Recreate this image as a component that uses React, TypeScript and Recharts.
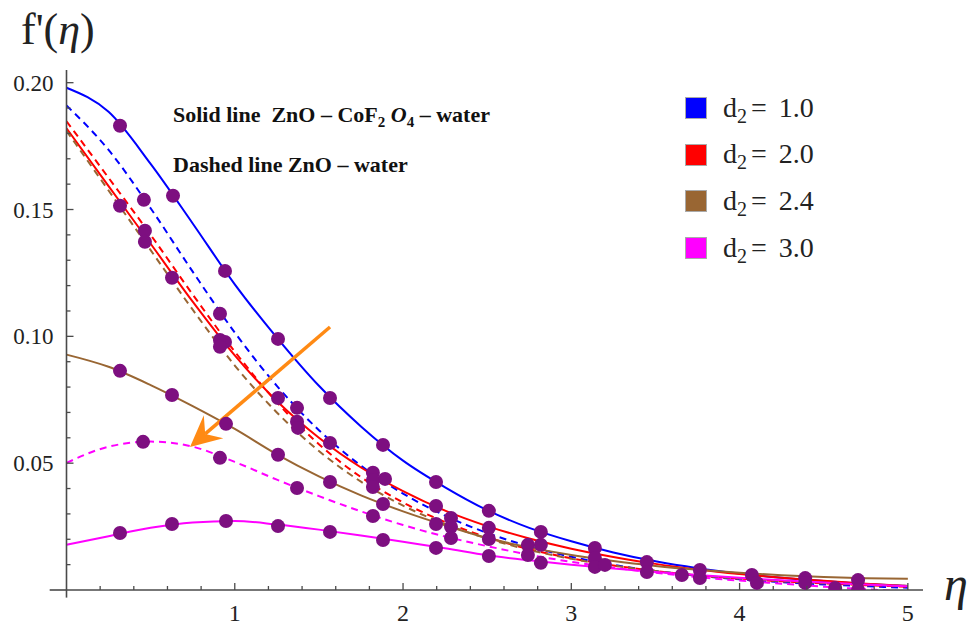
import React from 'react';
import { ComposedChart, Line, Scatter, XAxis, YAxis, ReferenceLine } from 'recharts';

// eta grid for the curves
const ETA = [0, 0.25, 0.5, 0.75, 1, 1.25, 1.5, 1.75, 2, 2.25, 2.5, 2.75, 3, 3.25, 3.5, 3.75, 4, 4.25, 4.5, 4.75, 5];

// d2 = 1.0
const BLUE_SOLID = [0.198, 0.1885, 0.168, 0.1445, 0.1205, 0.0995, 0.0805, 0.0645, 0.051, 0.0405, 0.0315, 0.0245, 0.0192, 0.0148, 0.0113, 0.0086, 0.0065, 0.0048, 0.0035, 0.0024, 0.0016];
const BLUE_DASHED = [0.191, 0.1735, 0.1505, 0.1255, 0.1015, 0.0805, 0.063, 0.049, 0.038, 0.0293, 0.0225, 0.0172, 0.0131, 0.0099, 0.0075, 0.0056, 0.0042, 0.0031, 0.0022, 0.0015, 0.0009];
// d2 = 2.0
const RED_SOLID = [0.182, 0.1592, 0.1365, 0.1137, 0.0925, 0.0745, 0.06, 0.0483, 0.039, 0.0313, 0.0252, 0.0203, 0.0163, 0.013, 0.0103, 0.0081, 0.0063, 0.0048, 0.0036, 0.0025, 0.0016];
const RED_DASHED = [0.1848, 0.1625, 0.14, 0.1165, 0.094, 0.074, 0.0575, 0.0445, 0.0345, 0.0268, 0.0208, 0.0161, 0.0125, 0.0097, 0.0075, 0.0058, 0.0045, 0.0034, 0.0026, 0.0019, 0.0013];
// d2 = 2.4
const BROWN_SOLID = [0.0928, 0.088, 0.0808, 0.0725, 0.0635, 0.0535, 0.0448, 0.0373, 0.031, 0.0255, 0.0205, 0.0168, 0.0138, 0.0114, 0.0095, 0.008, 0.0068, 0.0058, 0.0051, 0.0046, 0.0044];
const BROWN_DASHED = [0.181, 0.1575, 0.134, 0.1105, 0.0885, 0.07, 0.0548, 0.0427, 0.0333, 0.026, 0.0203, 0.0158, 0.0123, 0.0096, 0.0075, 0.0058, 0.0045, 0.0035, 0.0027, 0.0021, 0.0016];
// d2 = 3.0
const MAGENTA_SOLID = [0.0178, 0.0212, 0.0245, 0.0266, 0.0272, 0.0258, 0.0238, 0.0215, 0.019, 0.0165, 0.0137, 0.0117, 0.01, 0.0085, 0.0071, 0.0059, 0.0048, 0.0038, 0.003, 0.0022, 0.0015];
const MAGENTA_DASHED = [0.0501, 0.0565, 0.0585, 0.0565, 0.0505, 0.0435, 0.037, 0.031, 0.0256, 0.0211, 0.0173, 0.0139, 0.0111, 0.0088, 0.0068, 0.0051, 0.0037, 0.0025, 0.0013, 0.0003, -0.0006];

// purple markers [eta, f']
const DOTS = [
  [0.318, 0.183], [0.633, 0.1554], [0.46, 0.1538], [0.318, 0.1515], [0.466, 0.1416], [0.466, 0.1373],
  [0.627, 0.1231], [0.942, 0.1258], [0.912, 0.1089], [0.912, 0.0986], [0.942, 0.0978], [0.912, 0.0959],
  [1.257, 0.099], [0.627, 0.0769], [0.948, 0.0655], [1.257, 0.0757], [1.37, 0.0718], [1.37, 0.0663],
  [1.376, 0.0639], [1.566, 0.0757], [1.566, 0.058], [1.257, 0.0533], [0.912, 0.0521], [0.318, 0.0864],
  [0.455, 0.0584], [0.318, 0.0225], [0.627, 0.026], [0.948, 0.0272], [1.257, 0.0252], [1.566, 0.0229],
  [1.566, 0.0426], [1.37, 0.0402], [1.881, 0.0572], [1.821, 0.0462], [1.821, 0.0434], [1.821, 0.0406],
  [1.893, 0.0438], [1.881, 0.0339], [1.821, 0.0292], [1.881, 0.0197], [2.196, 0.0426], [2.196, 0.0331],
  [2.196, 0.026], [2.285, 0.0284], [2.285, 0.0249], [2.285, 0.0205], [2.196, 0.0166], [2.51, 0.0312],
  [2.51, 0.0245], [2.51, 0.0201], [2.51, 0.0134], [2.819, 0.0229], [2.742, 0.0178], [2.742, 0.0138],
  [2.819, 0.0178], [2.819, 0.0107], [3.14, 0.0166], [3.14, 0.0126], [3.14, 0.0091], [3.2, 0.0099],
  [3.449, 0.011], [3.449, 0.0071], [3.657, 0.0059], [3.764, 0.0079], [3.764, 0.0047], [4.073, 0.0059],
  [4.103, 0.0028], [4.39, 0.0047], [4.39, 0.0028], [4.568, 0.0008], [4.704, 0.0039], [4.704, 0.0],
];

const X_TICKS = [0.2, 0.4, 0.6, 0.8, 1, 1.2, 1.4, 1.6, 1.8, 2, 2.2, 2.4, 2.6, 2.8, 3, 3.2, 3.4, 3.6, 3.8, 4, 4.2, 4.4, 4.6, 4.8, 5];
const X_LABELS = [1, 2, 3, 4, 5];
const Y_TICKS = [0.01, 0.02, 0.03, 0.04, 0.05, 0.06, 0.07, 0.08, 0.09, 0.1, 0.11, 0.12, 0.13, 0.14, 0.15, 0.16, 0.17, 0.18, 0.19, 0.2];
const Y_LABELS = [0.05, 0.1, 0.15, 0.2];

const LEGEND = [
  { label: '1.0', color: '#0000ff' },
  { label: '2.0', color: '#ff0000' },
  { label: '2.4', color: '#996633' },
  { label: '3.0', color: '#ff00ff' },
];

// orange arrow, from tail to tip, in data units
const ARROW = [{ x: 1.566, y: 0.1037 }, { x: 0.734, y: 0.0564 }];

const SERIF = '"Liberation Serif", "Times New Roman", serif';
const AXIS = '#4a4a4a';

const rows = ETA.map((x, i) => ({
  x,
  bs: BLUE_SOLID[i],
  bd: BLUE_DASHED[i],
  rs: RED_SOLID[i],
  rd: RED_DASHED[i],
  ns: BROWN_SOLID[i],
  nd: BROWN_DASHED[i],
  ms: MAGENTA_SOLID[i],
  md: MAGENTA_DASHED[i],
}));

const dots = DOTS.map(([x, y]) => ({ x, y }));

const XTick = ({ x, y, payload }: any) => {
  const major = X_LABELS.includes(payload.value);
  return (
    <g>
      <line x1={x} x2={x} y1={y} y2={y - (major ? 7 : 4)} stroke={AXIS} strokeWidth={1.3} />
      {major && (
        <text x={x} y={y + 31} textAnchor="middle" fontSize={24} fontFamily={SERIF} fill="#222">
          {payload.value}
        </text>
      )}
    </g>
  );
};

const YTick = ({ x, y, payload }: any) => {
  const major = Y_LABELS.includes(payload.value);
  return (
    <g>
      <line x1={x} x2={x + (major ? 7 : 4)} y1={y} y2={y} stroke={AXIS} strokeWidth={1.3} />
      {major && (
        <text x={x - 13} y={y + 8} textAnchor="end" fontSize={23} fontFamily={SERIF} fill="#222">
          {payload.value.toFixed(2)}
        </text>
      )}
    </g>
  );
};

const Arrow = ({ x1, y1, x2, y2 }: any) => {
  const len = Math.hypot(x2 - x1, y2 - y1);
  const ux = (x2 - x1) / len;
  const uy = (y2 - y1) / len;
  const nx = -uy;
  const ny = ux;
  const head = 31;
  const half = 15;
  const notch = 20;
  const bx = x2 - ux * head;
  const by = y2 - uy * head;
  const pts = [
    [x2, y2],
    [bx + nx * half, by + ny * half],
    [x2 - ux * notch, y2 - uy * notch],
    [bx - nx * half, by - ny * half],
  ].map((p) => p.join(',')).join(' ');
  return (
    <g>
      <line x1={x1} y1={y1} x2={x2 - ux * notch} y2={y2 - uy * notch} stroke="#ff8a14" strokeWidth={3.5} />
      <polygon points={pts} fill="#ff8a14" />
    </g>
  );
};

const Dot = ({ cx, cy }: any) => <circle cx={cx} cy={cy} r={7} fill="#7d0f80" />;

const sub = (n: string, size: number, drop: number) => (
  <span style={{ fontSize: size, position: 'relative', top: drop }}>{n}</span>
);

export default function App() {
  return (
    <div style={{ position: 'absolute', left: 0, top: 0, width: 977, height: 625, background: '#fff' }}>
      <ComposedChart width={977} height={625} data={rows} margin={{ top: 70, right: 54, bottom: 10, left: 10.5 }}>
        <XAxis
          type="number"
          dataKey="x"
          domain={[0, 5.09]}
          allowDataOverflow
          ticks={X_TICKS}
          interval={0}
          tickSize={0}
          tickMargin={0}
          tickLine={false}
          tick={<XTick />}
          height={25}
          axisLine={{ stroke: AXIS, strokeWidth: 1.6 }}
        />
        <YAxis
          type="number"
          domain={[0, 0.205]}
          allowDataOverflow
          ticks={Y_TICKS}
          interval={0}
          tickSize={0}
          tickMargin={0}
          tickLine={false}
          tick={<YTick />}
          width={56}
          axisLine={{ stroke: AXIS, strokeWidth: 1.6 }}
        />
        <ReferenceLine segment={[{ x: -0.1, y: 0 }, { x: 0, y: 0 }]} stroke={AXIS} strokeWidth={1.6} ifOverflow="visible" />
        <ReferenceLine segment={[{ x: 0, y: 0 }, { x: 0, y: -0.003 }]} stroke={AXIS} strokeWidth={1.6} ifOverflow="visible" />

        <Line type="monotone" dataKey="bs" stroke="#0000ff" strokeWidth={2} dot={false} isAnimationActive={false} />
        <Line type="monotone" dataKey="bd" stroke="#0000ff" strokeWidth={2} strokeDasharray="7 5" dot={false} isAnimationActive={false} />
        <Line type="monotone" dataKey="rs" stroke="#ff0000" strokeWidth={2} dot={false} isAnimationActive={false} />
        <Line type="monotone" dataKey="rd" stroke="#ff0000" strokeWidth={2} strokeDasharray="7 5" dot={false} isAnimationActive={false} />
        <Line type="monotone" dataKey="ns" stroke="#996633" strokeWidth={2} dot={false} isAnimationActive={false} />
        <Line type="monotone" dataKey="nd" stroke="#996633" strokeWidth={2} strokeDasharray="7 5" dot={false} isAnimationActive={false} />
        <Line type="monotone" dataKey="ms" stroke="#ff00ff" strokeWidth={2} dot={false} isAnimationActive={false} />
        <Line type="monotone" dataKey="md" stroke="#ff00ff" strokeWidth={2} strokeDasharray="7 5" dot={false} isAnimationActive={false} />

        <Scatter data={dots} dataKey="y" shape={<Dot />} isAnimationActive={false} />
        <ReferenceLine segment={ARROW} ifOverflow="visible" shape={(p: any) => <Arrow {...p} />} />
      </ComposedChart>

      <div style={{ position: 'absolute', left: 21, top: 8, fontFamily: SERIF, fontSize: 44, lineHeight: '44px', color: '#222', whiteSpace: 'nowrap' }}>
        f'(<i>η</i>)
      </div>
      <div style={{ position: 'absolute', left: 944, top: 556, fontFamily: SERIF, fontSize: 48, fontStyle: 'italic', color: '#222' }}>
        η
      </div>

      <div style={{ position: 'absolute', left: 173, top: 103.5, fontFamily: SERIF, fontWeight: 'bold', fontSize: 22, lineHeight: '22px', whiteSpace: 'pre', color: '#111' }}>
        Solid line  ZnO – CoF{sub('2', 15, 5)} <i>O</i>{sub('4', 15, 5)} – water
      </div>
      <div style={{ position: 'absolute', left: 173, top: 153.5, fontFamily: SERIF, fontWeight: 'bold', fontSize: 22, lineHeight: '22px', whiteSpace: 'pre', color: '#111' }}>
        Dashed line ZnO – water
      </div>

      {LEGEND.map((item, i) => (
        <div key={item.label} style={{ position: 'absolute', left: 685, top: 97 + i * 46.7, width: 200, height: 22 }}>
          <div style={{ position: 'absolute', left: 0, top: 0, width: 20, height: 20, background: item.color, border: '1px solid #aaa' }} />
          <div style={{ position: 'absolute', left: 38, top: -3.5, fontFamily: SERIF, fontSize: 28, lineHeight: '28px', color: '#222', whiteSpace: 'pre' }}>
            d{sub('2', 20, 6)}
            <span style={{ marginLeft: 4 }}>=</span>
            <span style={{ marginLeft: 12 }}>{item.label}</span>
          </div>
        </div>
      ))}
    </div>
  );
}
